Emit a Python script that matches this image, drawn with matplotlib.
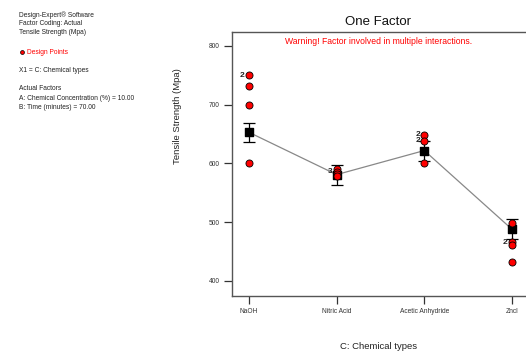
import matplotlib
matplotlib.use("Agg")
import matplotlib.pyplot as plt

plt.rcParams["font.family"] = ["Liberation Sans", "DejaVu Sans"]

# chemical types on the x axis
categories = ["NaOH", "Nitric Acid", "Acetic Anhydride", "Zncl"]

# model prediction and its error bar bounds
means = [653, 581, 622, 488]
err_low = [636, 564, 604, 471]
err_high = [669, 598, 638, 505]

# design points (one list per chemical type)
points = [
    [750, 732, 700, 600],
    [590, 586, 582, 579],
    [649, 639, 600],
    [498, 466, 461, 433],
]
# replicate labels: (category index, value, label)
point_labels = [(0, 750, "2"), (1, 586, "3"), (2, 650, "2"), (2, 639, "2"), (3, 466, "2")]

y_ticks = [400, 500, 600, 700, 800]

fig = plt.figure(figsize=(5.26, 3.54), dpi=100)
ax = fig.add_axes([0.441, 0.164, 0.559, 0.746])

x = list(range(len(categories)))

ax.plot(x, means, color="#888888", linewidth=0.9, zorder=2)
for i in x:
    lo = means[i] - err_low[i]
    hi = err_high[i] - means[i]
    ax.errorbar(i, means[i], yerr=[[lo], [hi]], fmt="none", ecolor="black",
                elinewidth=0.9, capsize=4.5, capthick=0.9, zorder=3)
ax.scatter(x, means, marker="s", s=26, color="black", zorder=4)

for i, vals in enumerate(points):
    ax.scatter([i] * len(vals), vals, s=26, color="red", edgecolor="black",
               linewidth=0.6, zorder=5)

for i, v, lab in point_labels:
    ax.text(i - 0.05, v, lab, fontsize=6, fontweight="bold", ha="right",
            va="center", color="#222222", zorder=6)

ax.set_xlim(-0.194, 3.16)
ax.set_ylim(374.5, 824)
ax.set_xticks(x)
ax.set_xticklabels(categories, fontsize=4.8, color="#333333")
ax.set_yticks(y_ticks)
ax.set_yticklabels([str(t) for t in y_ticks], fontsize=4.8, color="#333333")
ax.tick_params(axis="both", direction="out", length=6, width=0.9, color="#333333", pad=3)

for side in ["left", "top", "bottom"]:
    ax.spines[side].set_color("#555555")
    ax.spines[side].set_linewidth(1.0)
ax.spines["right"].set_visible(False)

fig.text(0.719, 0.939, "One Factor", fontsize=9.5, ha="center", va="center", color="#111111")
ax.text(0.5, 0.963, "Warning! Factor involved in multiple interactions.", transform=ax.transAxes,
        fontsize=6.2, color="red", ha="center", va="center")

fig.text(0.719, 0.021, "C: Chemical types", fontsize=6.8, ha="center", va="center", color="#222222")
fig.text(0.337, 0.671, "Tensile Strength (Mpa)", fontsize=6.8,
         rotation=90, ha="center", va="center", color="#222222")

# side info block
info = [
    (0.958, "Design-Expert® Software"),
    (0.935, "Factor Coding: Actual"),
    (0.907, "Tensile Strength (Mpa)"),
    (0.802, "X1 = C: Chemical types"),
    (0.751, "Actual Factors"),
    (0.723, "A: Chemical Concentration (%) = 10.00"),
    (0.697, "B: Time (minutes) = 70.00"),
]
for yy, txt in info:
    fig.text(0.036, yy, txt, fontsize=4.8, ha="left", va="center", color="#222222")
fig.text(0.051, 0.853, "Design Points", fontsize=4.8, ha="left", va="center", color="red")
fig.add_artist(plt.Line2D([0.041], [0.853], marker="o", markersize=2.8, color="red",
                          markeredgecolor="black", markeredgewidth=0.5, transform=fig.transFigure))

fig.savefig("out.png", dpi=100)
